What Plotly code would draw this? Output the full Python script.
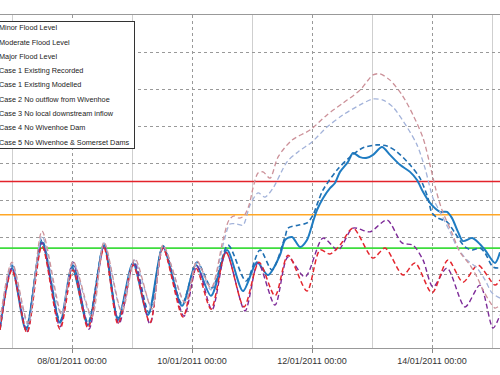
import pandas as pd
import plotly.graph_objects as go

# ---- data (hours after 07/01/2011 00:00, level in m) ----
BASE = "2011-01-07 00:00"
X_START_H, X_END_H = -4.8, 195.2

MINOR_LEVEL = 1.7
MODERATE_LEVEL = 2.6
MAJOR_LEVEL = 3.5

rec_h = [-4.8, 0, 5.6, 12, 19.2, 24, 30.4, 36.8, 42.4, 48.4, 54.4, 60.4, 68, 73.6, 79.6, 86, 92.4, 98,
         102.4, 107.2, 109.2, 112, 115.2, 118, 120.4, 122, 124.4, 127.2, 129.2, 131.2, 134.4, 136.4,
         139.2, 142, 144.4, 148, 151.2, 155.2, 159.2, 162, 164.4, 167.2, 171.2, 174, 176, 178.4, 180.4,
         184, 186.4, 189.2, 193.2, 195.2]
rec_v = [-0.46, 1.16, -0.51, 1.86, -0.32, 1.19, -0.38, 1.78, -0.24, 1.30, -0.11, 1.73, 0.14, 1.24, 0.41,
         1.65, 0.54, 1.32, 0.97, 1.51, 1.92, 2.00, 1.73, 1.92, 2.41, 2.73, 3.05, 3.32, 3.46, 3.76, 4.03,
         4.27, 4.16, 4.14, 4.22, 4.43, 4.22, 3.95, 3.76, 3.54, 3.22, 2.92, 2.68, 2.68, 2.51, 2.14, 1.89,
         1.97, 1.86, 1.65, 1.30, 1.59]

mod_h = [-4.8, 0, 5.6, 12, 19.2, 24.4, 30.4, 36.8, 42.4, 48.8, 54.8, 60.4, 68, 74, 80, 86.4, 93.6, 99.2,
         104, 109.2, 110.4, 114.4, 118, 120.4, 122.4, 124.4, 130, 135.2, 140.4, 146, 150, 154, 159.2,
         163.2, 166.4, 168, 170.4, 174, 177.2, 181.2, 184, 187.2, 189.2, 192.4, 195.2]
mod_v = [-0.51, 1.24, -0.46, 1.92, -0.27, 1.24, -0.32, 1.81, -0.19, 1.32, -0.05, 1.76, 0.19, 1.32, 0.62,
         1.78, 0.81, 1.65, 1.11, 2.00, 2.24, 2.32, 2.38, 2.59, 2.95, 3.27, 3.81, 4.16, 4.41, 4.49, 4.46,
         4.30, 3.95, 3.59, 3.05, 2.65, 2.51, 2.41, 2.11, 1.73, 1.65, 1.70, 1.57, 1.19, 1.16]

c2_h = [-4.8, 0, 6, 12, 19.2, 24.4, 30.8, 36.8, 42.8, 48.8, 55.2, 60.4, 68.8, 74, 80, 85.6, 93.2, 98.4,
        105.2, 110.4, 117.2, 124.4, 130.4, 136.4, 143.2, 150, 156, 160.4, 164.4, 168.4, 174, 181.2,
        187.2, 192.4, 195.2]
c2_v = [-0.46, 1.16, -0.57, 1.84, -0.43, 1.32, -0.49, 1.76, -0.35, 1.32, -0.35, 1.70, -0.14, 1.22, 0.03,
        1.59, 0.00, 1.30, 0.16, 1.46, 0.92, 1.97, 1.65, 2.24, 2.14, 2.46, 1.84, 1.78, 1.38, 0.65, 1.16,
        0.11, 0.70, -0.46, -0.11]

c3_h = [-4.8, 0, 6, 12, 19.2, 24.4, 30.4, 36.8, 42.4, 48.4, 55.2, 60.4, 68.4, 73.6, 79.6, 85.6, 92.8,
        98.8, 105.2, 110.4, 118, 123.2, 127.2, 131.2, 136.4, 144.4, 149.2, 156.4, 161.2, 168, 174.4,
        180.4, 186.4, 193.2, 195.2]
c3_v = [-0.51, 1.11, -0.59, 1.76, -0.49, 1.11, -0.46, 1.70, -0.35, 1.24, -0.32, 1.70, -0.16, 1.16, 0.05,
        1.59, 0.11, 1.32, 0.41, 1.51, 0.54, 1.65, 1.54, 1.78, 2.24, 1.43, 1.70, 0.97, 1.30, 0.49, 1.38,
        0.78, 1.24, 0.70, 0.84]

c4_h = [-4.8, 0, 6.4, 12, 19.6, 24.4, 31.6, 36.8, 43.6, 48.8, 56, 60.4, 69.2, 74, 79.6, 84.4, 87.2, 90,
        92.4, 95.2, 98.4, 101.2, 104.4, 110, 114.4, 120, 126, 132.4, 139.2, 144.4, 148.4, 152.4, 158,
        162, 165.2, 168.4, 171.2, 175.2, 178, 182, 186, 189.2, 192, 195.2]
c4_v = [-0.30, 1.27, -0.38, 2.03, -0.08, 1.32, -0.14, 1.84, 0.03, 1.38, 0.08, 1.76, 0.24, 1.30, 0.57,
        1.78, 2.35, 2.35, 2.32, 2.86, 3.19, 3.08, 3.32, 4.03, 4.30, 4.57, 4.97, 5.30, 5.57, 5.73, 5.70,
        5.51, 4.97, 4.49, 3.86, 3.05, 2.68, 2.14, 1.73, 1.38, 1.16, 0.84, 0.49, 0.35]

c5_h = [-4.8, 0, 6.4, 12, 20, 24.4, 32, 36.8, 44, 49.2, 56, 60.4, 69.2, 74, 79.6, 84.4, 86.8, 88.8, 90.8,
        92.8, 94.8, 96.4, 98.4, 100.4, 103.2, 106.4, 112, 119.2, 126, 132.4, 139.2, 144.4, 147.2, 151.2,
        156, 160.4, 164.4, 167.2, 169.6, 172, 176, 179.2, 183.2, 186, 188.4, 191.2, 193.2, 195.2]
c5_v = [-0.24, 1.32, -0.32, 2.16, -0.11, 1.35, -0.16, 1.86, -0.03, 1.41, 0.05, 1.78, 0.22, 1.35, 0.62,
        1.92, 2.46, 2.57, 2.51, 2.57, 2.86, 3.32, 3.73, 3.76, 3.59, 4.16, 4.62, 4.89, 5.30, 5.62, 5.97,
        6.38, 6.41, 6.24, 5.84, 5.30, 4.68, 3.95, 3.27, 2.73, 2.11, 1.59, 1.24, 0.92, 0.57, 0.24, 0.08,
        0.16]

LEGEND_NAMES = ["Minor Flood Level", "Moderate Flood Level", "Major Flood Level",
                "Case 1 Existing Recorded", "Case 1 Existing Modelled",
                "Case 2 No outflow from Wivenhoe", "Case 3 No local downstream inflow",
                "Case 4 No Wivenhoe Dam", "Case 5 No Wivenhoe & Somerset Dams"]

base = pd.Timestamp(BASE)


def tx(hours):
    return base + pd.to_timedelta(hours, unit="h")


x_range = [tx(X_START_H), tx(X_END_H)]

fig = go.Figure()

levels = [(MINOR_LEVEL, "#3ddc3d"), (MODERATE_LEVEL, "#ffa726"), (MAJOR_LEVEL, "#e3232b")]
for (lvl, col), name in zip(levels, LEGEND_NAMES[:3]):
    fig.add_trace(go.Scatter(x=x_range, y=[lvl, lvl], mode="lines", name=name,
                             line=dict(color=col, width=1.6)))

series = [
    (rec_h, rec_v, "#1f7cc2", "solid", 2.0),
    (mod_h, mod_v, "#1f6fb2", "5px,3px", 1.6),
    (c2_h, c2_v, "#7d2a98", "5px,3px", 1.4),
    (c3_h, c3_v, "#e4262e", "5px,3px", 1.5),
    (c4_h, c4_v, "#a3b3da", "5px,3px", 1.3),
    (c5_h, c5_v, "#cc9199", "5px,3px", 1.3),
]
for (h, v, col, dash, w), name in zip(series, LEGEND_NAMES[3:]):
    fig.add_trace(go.Scatter(x=tx(h), y=v, mode="lines", name=name,
                             line=dict(color=col, width=w, dash=dash, shape="spline", smoothing=0.8)))

legend_text = "<br>".join('<span style="font-size:7.3px">%s</span>' % n.replace("&", "&amp;")
                          for n in LEGEND_NAMES)
fig.add_annotation(xref="paper", yref="paper", x=0.27, y=(348 - 21) / 333,
                   xanchor="right", yanchor="top", text=legend_text, showarrow=False,
                   align="left", width=134, height=124, borderpad=1,
                   bordercolor="#333333", borderwidth=1, bgcolor="white",
                   font=dict(family="Liberation Sans, Arial, sans-serif", size=11, color="#222"))

fig.update_layout(
    width=500, height=375,
    margin=dict(l=0, r=0, t=15, b=27, autoexpand=False),
    paper_bgcolor="white", plot_bgcolor="white",
    showlegend=False,
    font=dict(family="Liberation Sans, Arial, sans-serif", size=8, color="#333"),
    xaxis=dict(range=x_range, tick0="2011-01-08", dtick=2 * 86400000,
               tickformat="%d/%m/%Y %H:%M", ticks="outside", ticklen=4, tickcolor="#888",
               showgrid=True, gridcolor="#999", griddash="dot", gridwidth=1,
               minor=dict(dtick=86400000, tick0="2011-01-07", showgrid=True,
                          gridcolor="#cfcfcf", griddash="solid", gridwidth=1),
               showline=True, linecolor="#999", linewidth=1, mirror=True,
               zeroline=False, tickfont=dict(size=9, color="#333")),
    yaxis=dict(range=[-1, 8], dtick=1, showticklabels=False, ticks="",
               showgrid=True, gridcolor="#999", griddash="dot", gridwidth=1,
               zeroline=False, showline=False),
)

fig.write_html("out.html", config={"displayModeBar": False},
               post_script="document.body.style.margin='0';")
